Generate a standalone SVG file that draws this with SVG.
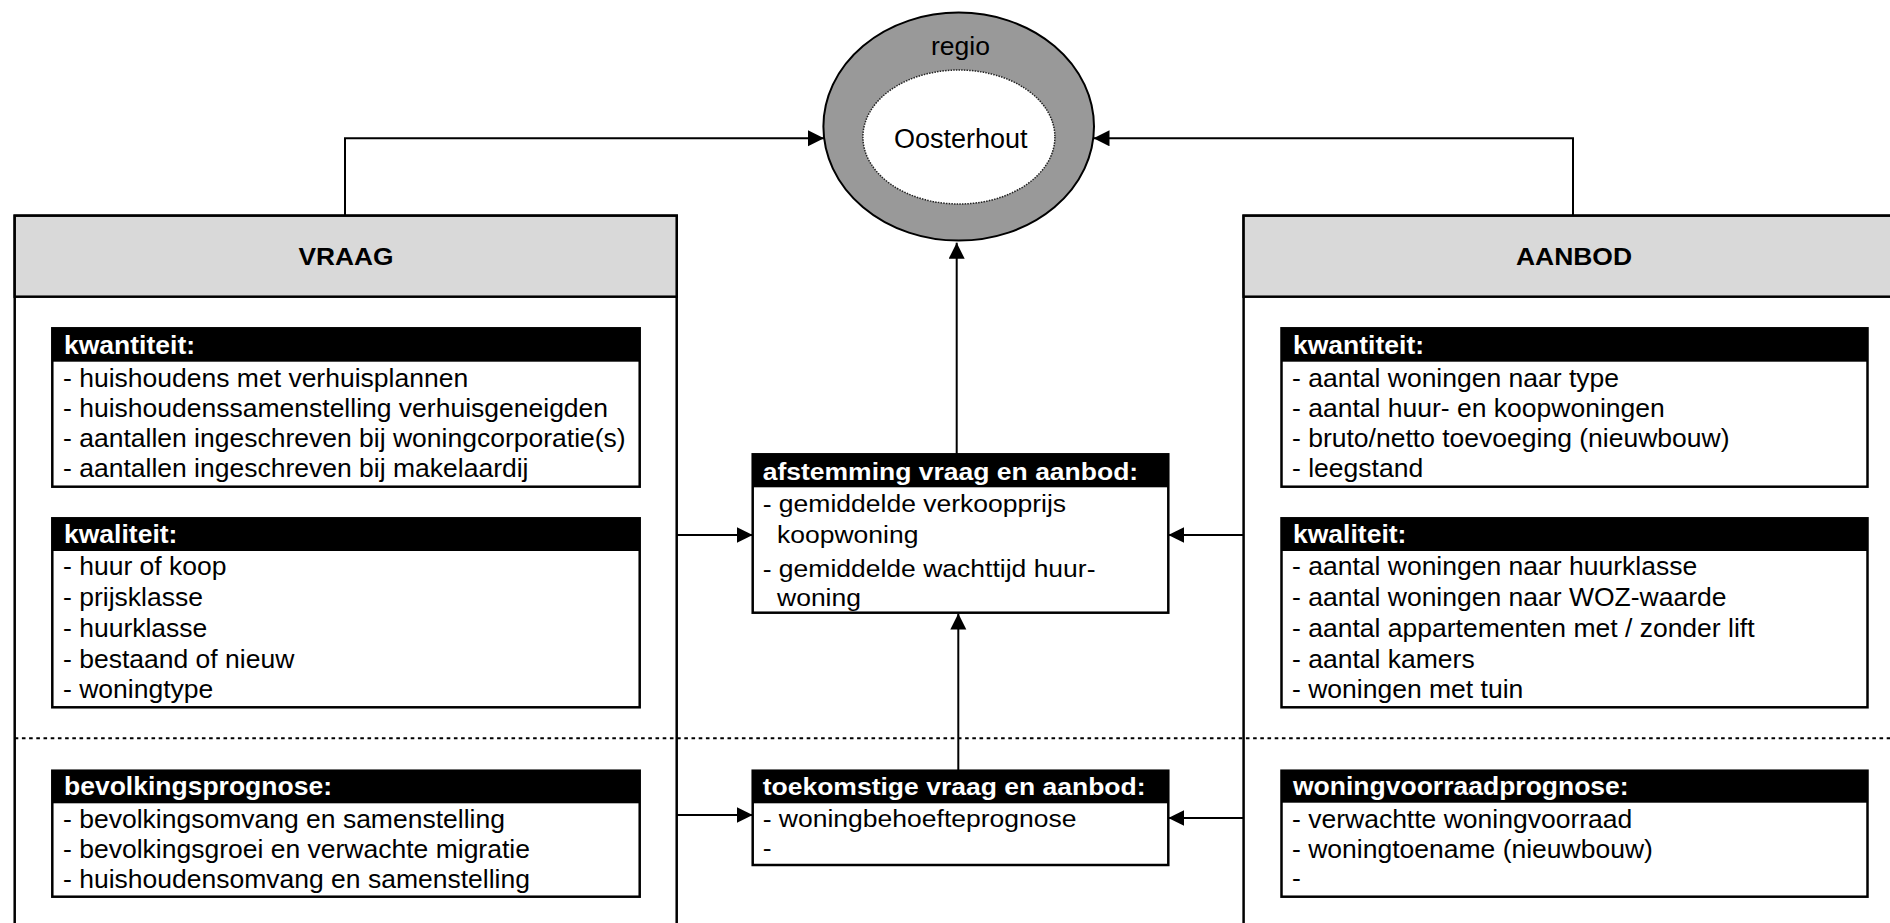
<svg xmlns="http://www.w3.org/2000/svg" width="1890" height="923" viewBox="0 0 1890 923">
<defs>
<marker id="arr" markerUnits="userSpaceOnUse" markerWidth="17" markerHeight="17" refX="16" refY="8" orient="auto">
<path d="M0,0 L16,8 L0,16 z" fill="#000"/>
</marker>
<style>
.t{font-family:"Liberation Sans",Arial,sans-serif;font-size:26.5px;fill:#000}
.hb{font-family:"Liberation Sans",Arial,sans-serif;font-size:26.5px;font-weight:bold;fill:#fff}
.mt{font-family:"Liberation Sans",Arial,sans-serif;font-size:23.5px;fill:#000}
.mh{font-family:"Liberation Sans",Arial,sans-serif;font-size:23.5px;font-weight:bold;fill:#fff}
.big{font-family:"Liberation Sans",Arial,sans-serif;font-size:24px;font-weight:bold;fill:#000}
.box{fill:#fff;stroke:#000;stroke-width:2.5}
.hdr{fill:#000}
.conn{fill:none;stroke:#000;stroke-width:2}
</style>
</defs>
<rect width="1890" height="923" fill="#fff"/>

<g id="vraag">
<rect x="14.7" y="215.7" width="662" height="740" fill="#fff" stroke="#000" stroke-width="2.5"/>
<rect x="14.7" y="215.7" width="662" height="81" fill="#d9d9d9" stroke="#000" stroke-width="2.5"/>
<text class="big" x="346" y="265" text-anchor="middle" textLength="95" lengthAdjust="spacingAndGlyphs">VRAAG</text>
</g>

<g id="aanbod">
<rect x="1243.6" y="215.7" width="700" height="740" fill="#fff" stroke="#000" stroke-width="2.5"/>
<rect x="1243.6" y="215.7" width="700" height="81" fill="#d9d9d9" stroke="#000" stroke-width="2.5"/>
<text class="big" x="1574" y="265" text-anchor="middle" textLength="116" lengthAdjust="spacingAndGlyphs">AANBOD</text>
</g>

<g id="connectors">
<path class="conn" d="M14.7,738.3 H1890" stroke-width="3.2" stroke-dasharray="3.6 3.6"/>
<path class="conn" d="M345,215.7 V138.3 H824" marker-end="url(#arr)"/>
<path class="conn" d="M1573,215.7 V138.3 H1093.5" marker-end="url(#arr)"/>
<path class="conn" d="M956.7,454.3 V242.7" marker-end="url(#arr)"/>
<path class="conn" d="M676.7,535 H752.7" marker-end="url(#arr)"/>
<path class="conn" d="M1243.6,535 H1168.3" marker-end="url(#arr)"/>
<path class="conn" d="M676.7,815 H752.7" marker-end="url(#arr)"/>
<path class="conn" d="M1243.6,818 H1168.3" marker-end="url(#arr)"/>
<path class="conn" d="M958.3,770.7 V613.5" marker-end="url(#arr)"/>
</g>

<g id="regio">
<ellipse cx="958.7" cy="126.6" rx="135.3" ry="114" fill="#999999" stroke="#000" stroke-width="2"/>
<ellipse cx="958.9" cy="137" rx="96" ry="67" fill="#fff" stroke="#222" stroke-width="1.5" stroke-dasharray="1.5 1.2"/>
<text class="t" x="960.5" y="55" text-anchor="middle" style="font-size:26.5px">regio</text>
<text class="t" x="960.8" y="148.3" text-anchor="middle" style="font-size:27px">Oosterhout</text>
</g>

<g id="vraag-kwantiteit">
<rect class="box" x="52.3" y="328.3" width="587.4" height="158.4"/>
<rect class="hdr" x="52.3" y="328.3" width="587.4" height="33.4"/>
<text class="hb" x="64" y="354">kwantiteit:</text>
<text class="t" x="63" y="386.7">- huishoudens met verhuisplannen</text>
<text class="t" x="63" y="416.7">- huishoudenssamenstelling verhuisgeneigden</text>
<text class="t" x="63" y="446.7">- aantallen ingeschreven bij woningcorporatie(s)</text>
<text class="t" x="63" y="476.7">- aantallen ingeschreven bij makelaardij</text>
</g>

<g id="vraag-kwaliteit">
<rect class="box" x="52.3" y="518.3" width="587.4" height="189"/>
<rect class="hdr" x="52.3" y="518.3" width="587.4" height="32.7"/>
<text class="hb" x="64" y="543">kwaliteit:</text>
<text class="t" x="63" y="575">- huur of koop</text>
<text class="t" x="63" y="606">- prijsklasse</text>
<text class="t" x="63" y="636.7">- huurklasse</text>
<text class="t" x="63" y="667.5">- bestaand of nieuw</text>
<text class="t" x="63" y="698.3">- woningtype</text>
</g>

<g id="bevolkingsprognose">
<rect class="box" x="52.3" y="770.7" width="587.4" height="126"/>
<rect class="hdr" x="52.3" y="770.7" width="587.4" height="32.6"/>
<text class="hb" x="64" y="795">bevolkingsprognose:</text>
<text class="t" x="63" y="828.3">- bevolkingsomvang en samenstelling</text>
<text class="t" x="63" y="858.3">- bevolkingsgroei en verwachte migratie</text>
<text class="t" x="63" y="888.3">- huishoudensomvang en samenstelling</text>
</g>

<g id="aanbod-kwantiteit">
<rect class="box" x="1281.5" y="328.3" width="586" height="158.4"/>
<rect class="hdr" x="1281.5" y="328.3" width="586" height="33.4"/>
<text class="hb" x="1293" y="354">kwantiteit:</text>
<text class="t" x="1292" y="386.7">- aantal woningen naar type</text>
<text class="t" x="1292" y="416.7">- aantal huur- en koopwoningen</text>
<text class="t" x="1292" y="446.7">- bruto/netto toevoeging (nieuwbouw)</text>
<text class="t" x="1292" y="476.7">- leegstand</text>
</g>

<g id="aanbod-kwaliteit">
<rect class="box" x="1281.5" y="518.3" width="586" height="189"/>
<rect class="hdr" x="1281.5" y="518.3" width="586" height="32.7"/>
<text class="hb" x="1293" y="543">kwaliteit:</text>
<text class="t" x="1292" y="575">- aantal woningen naar huurklasse</text>
<text class="t" x="1292" y="606">- aantal woningen naar WOZ-waarde</text>
<text class="t" x="1292" y="636.7">- aantal appartementen met / zonder lift</text>
<text class="t" x="1292" y="667.5">- aantal kamers</text>
<text class="t" x="1292" y="698.3">- woningen met tuin</text>
</g>

<g id="woningvoorraadprognose">
<rect class="box" x="1281.5" y="770.7" width="586" height="126"/>
<rect class="hdr" x="1281.5" y="770.7" width="586" height="32"/>
<text class="hb" x="1293" y="795">woningvoorraadprognose:</text>
<text class="t" x="1292" y="828.3">- verwachtte woningvoorraad</text>
<text class="t" x="1292" y="858.3">- woningtoename (nieuwbouw)</text>
<text class="t" x="1292" y="886.7">-</text>
</g>

<g id="afstemming">
<rect class="box" x="752.7" y="454.3" width="415.6" height="158.4"/>
<rect class="hdr" x="752.7" y="454.3" width="415.6" height="33"/>
<text class="mh" x="762.7" y="480" textLength="375.5" lengthAdjust="spacingAndGlyphs">afstemming vraag en aanbod:</text>
<text class="mt" x="762.7" y="511.7" textLength="303.4" lengthAdjust="spacingAndGlyphs">- gemiddelde verkoopprijs</text>
<text class="mt" x="777" y="542.7" textLength="141.4" lengthAdjust="spacingAndGlyphs">koopwoning</text>
<text class="mt" x="762.7" y="576.7" textLength="332.8" lengthAdjust="spacingAndGlyphs">- gemiddelde wachttijd huur-</text>
<text class="mt" x="777" y="605.7" textLength="84" lengthAdjust="spacingAndGlyphs">woning</text>
</g>

<g id="toekomstige">
<rect class="box" x="752.7" y="770.7" width="415.6" height="94.3"/>
<rect class="hdr" x="752.7" y="770.7" width="415.6" height="32.6"/>
<text class="mh" x="762.7" y="795" textLength="382.9" lengthAdjust="spacingAndGlyphs">toekomstige vraag en aanbod:</text>
<text class="mt" x="762.7" y="827.3" textLength="313.8" lengthAdjust="spacingAndGlyphs">- woningbehoefteprognose</text>
<text class="mt" x="762.7" y="856" textLength="8.8" lengthAdjust="spacingAndGlyphs">-</text>
</g>
</svg>
